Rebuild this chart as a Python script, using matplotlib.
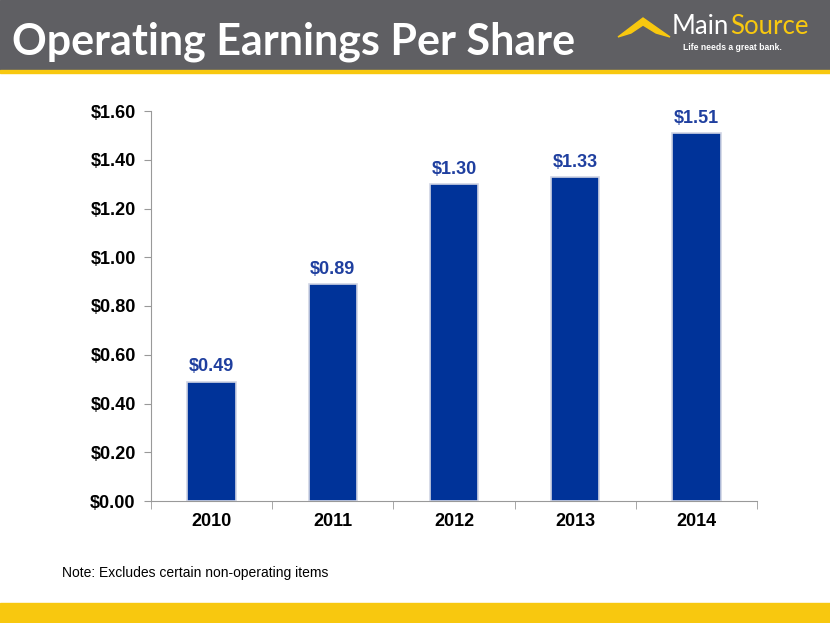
import numpy as np
import matplotlib.pyplot as plt
from matplotlib.patches import Rectangle, Polygon

years = ['2010', '2011', '2012', '2013', '2014']
eps = [0.49, 0.89, 1.30, 1.33, 1.51]
yticks = [0.0, 0.2, 0.4, 0.6, 0.8, 1.0, 1.2, 1.4, 1.6]

grey = '#5f5f63'
yellow = '#f8c80f'
bar_color = '#003399'
label_color = '#1f3f9f'
arial = 'Liberation Sans'

fig = plt.figure(figsize=(8.3, 6.23), dpi=100)


def fx(px):
    return px / 830


def fy(py):
    return 1 - py / 623


# header band + bottom band
fig.patches.append(Rectangle((0, fy(70)), 1, 70 / 623, transform=fig.transFigure,
                             color=grey, zorder=0))
fig.patches.append(Rectangle((0, fy(73)), 1, 3 / 623, transform=fig.transFigure,
                             color=yellow, zorder=0))
fig.patches.append(Rectangle((0, 0), 1, 20 / 623, transform=fig.transFigure,
                             color=yellow, zorder=0))

fig.text(fx(12), fy(42), 'Operating Earnings Per Share', color='white',
         fontsize=31, fontweight='bold', family='Lato', va='center', ha='left')

# logo
fig.patches.append(Polygon([(fx(a), fy(b)) for a, b in
                            [(618, 37), (643, 18), (670, 37), (656, 33), (643, 25), (631, 33)]],
                           closed=True, transform=fig.transFigure, color=yellow))
fig.text(fx(729), fy(27), 'Main', color='white', fontsize=18.5, family='Lato',
         va='center', ha='right')
fig.text(fx(730), fy(27), 'Source', color=yellow, fontsize=18.5, family='Lato',
         va='center', ha='left')
fig.text(fx(683), fy(47), 'Life needs a great bank.', color='white', fontsize=6.2,
         fontweight='bold', family=arial, va='center', ha='left')

ax = fig.add_axes([fx(151), fy(501), 606 / 830, 390 / 623])
x = np.arange(len(years))
ax.bar(x, eps, width=0.4, color=bar_color, edgecolor='#d0d4e4', linewidth=1.2, zorder=3)
for xi, v in zip(x, eps):
    ax.text(xi, v + 0.025, f'${v:.2f}', ha='center', va='bottom', color=label_color,
            fontsize=13, fontweight='bold', family=arial)

ax.set_xlim(-0.5, len(years) - 0.5)
ax.set_ylim(0, 1.6)
ax.set_yticks(yticks)
ax.set_yticklabels([f'${t:.2f}' for t in yticks], fontsize=13, fontweight='bold',
                   family=arial)
ax.set_xticks(x)
ax.set_xticklabels(years, fontsize=13, fontweight='bold', family=arial)
ax.tick_params(axis='x', length=0, pad=9)
ax.set_xticks(np.arange(-0.5, len(years)), minor=True)
ax.tick_params(axis='x', which='minor', length=6, color='#999999')
ax.tick_params(axis='y', length=5, color='#999999', pad=6)
for s in ['top', 'right']:
    ax.spines[s].set_visible(False)
ax.spines['left'].set_color('#999999')
ax.spines['bottom'].set_color('#999999')

fig.text(fx(62), fy(573), 'Note: Excludes certain non-operating items',
         fontsize=10, family=arial, va='center', ha='left')

fig.savefig('out.png', dpi=100)
